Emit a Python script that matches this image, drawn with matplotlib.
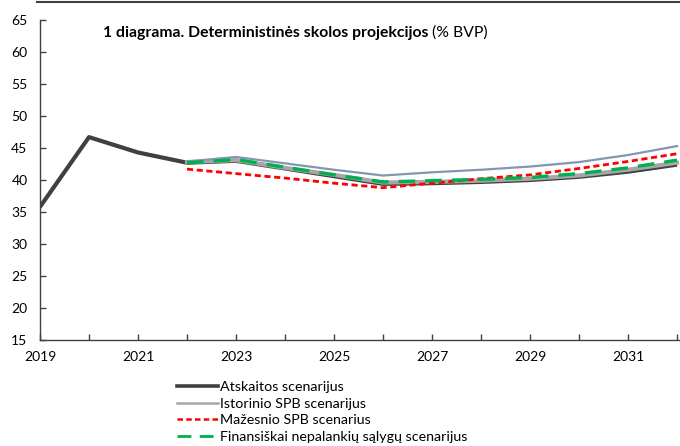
import numpy as np
import matplotlib.pyplot as plt
from matplotlib.lines import Line2D

plt.rcParams['font.family'] = ['Lato', 'DejaVu Sans']

# duomenys (% BVP)
metai = list(range(2019, 2033))
proj_metai = list(range(2022, 2033))

atskaitos = [35.8, 46.7, 44.3, 42.7, 43.0, 41.8, 40.6, 39.4, 39.5, 39.7, 40.0, 40.5, 41.3, 42.4]
istorinio = [42.8, 43.1, 41.9, 40.8, 39.6, 39.7, 39.9, 40.2, 40.7, 41.6, 42.7]
mazesnio = [41.7, 41.0, 40.3, 39.5, 38.8, 39.5, 40.2, 40.8, 41.8, 42.9, 44.1]
finansiskai = [42.7, 43.2, 42.0, 40.8, 39.7, 39.9, 40.1, 40.4, 41.0, 41.9, 43.1]
papildomas = [42.9, 43.6, 42.6, 41.6, 40.7, 41.2, 41.6, 42.1, 42.8, 43.9, 45.3]

etiketes = ['Atskaitos scenarijus', 'Istorinio SPB scenarijus',
            'Mažesnio SPB scenarius', 'Finansiškai nepalankių sąlygų scenarijus']

W, H = 680, 446
fig = plt.figure(figsize=(W / 100, H / 100), dpi=100)
ax = fig.add_axes([40 / W, (H - 340) / H, (W - 40) / W, 320 / H])

ax.plot(metai, atskaitos, color='#404040', linewidth=3.0, solid_capstyle='butt')
ax.plot(proj_metai, istorinio, color='#A6A6A6', linewidth=3.0)
ax.plot(proj_metai, papildomas, color='#8496B0', linewidth=1.6)
ax.plot(proj_metai, mazesnio, color='#FF0000', linewidth=2.0, dashes=(2.2, 1.3))
ax.plot(proj_metai, finansiskai, color='#00B050', linewidth=2.4, dashes=(5, 3))

ax.set_xlim(2019, 2019 + 640 / 49)
ax.set_ylim(15, 65)
ax.set_yticks(np.arange(15, 66, 5))
ax.set_xticks(np.arange(2019, 2033, 2))
ax.set_xticks(np.arange(2019, 2033, 1), minor=True)
ax.tick_params(axis='both', direction='in', length=4, width=1, labelsize=10, colors='#404040')
ax.tick_params(axis='x', which='minor', direction='in', length=4, width=1, colors='#404040')
ax.tick_params(axis='y', pad=9)
ax.tick_params(axis='x', pad=8)
for lab in ax.get_xticklabels() + ax.get_yticklabels():
    lab.set_color('black')
for s in ['top', 'right']:
    ax.spines[s].set_visible(False)
for s in ['left', 'bottom']:
    ax.spines[s].set_color('#404040')
    ax.spines[s].set_linewidth(1.0)

# pavadinimas
pav = fig.text(103 / W, 1 - 33 / H, '1 diagrama. Deterministinės skolos projekcijos ',
               fontsize=11.3, fontweight='bold', va='center', ha='left')
fig.canvas.draw()
bb = pav.get_window_extent(fig.canvas.get_renderer())
fig.text(bb.x1 / W, 1 - 33 / H, '(% BVP)', fontsize=11.3, va='center', ha='left')

# viršutinė linija
fig.add_artist(Line2D([37 / W, 1], [1 - 1.5 / H, 1 - 1.5 / H], color='#404040', linewidth=1.5))

# legenda
h = [Line2D([], [], color='#404040', linewidth=2.6),
     Line2D([], [], color='#A6A6A6', linewidth=1.8),
     Line2D([], [], color='#FF0000', linewidth=1.8, dashes=(2.2, 1.3)),
     Line2D([], [], color='#00B050', linewidth=2.0, dashes=(5, 3))]
fig.legend(h, etiketes, loc='upper left', bbox_to_anchor=(177 / W, 1 - 381 / H),
           frameon=False, fontsize=10.3, handlelength=2.9, handletextpad=0.1,
           labelspacing=0.32, borderpad=0, borderaxespad=0)

fig.savefig('out.png', dpi=100)
